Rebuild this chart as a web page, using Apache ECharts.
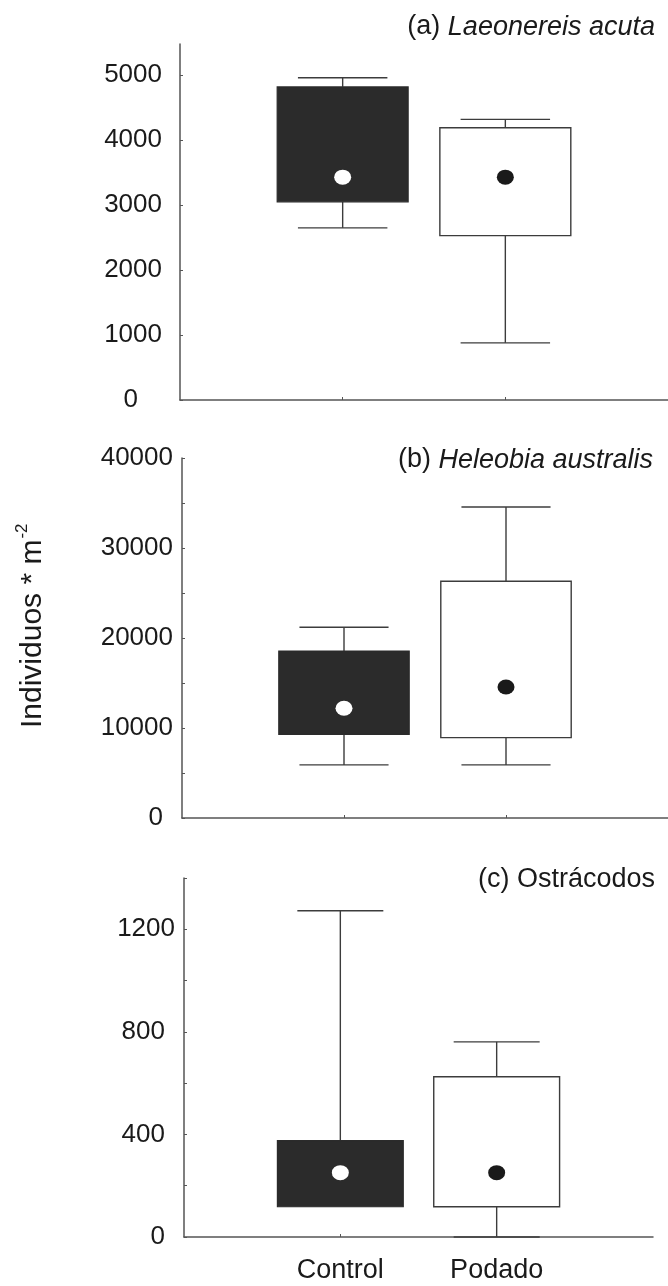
<!DOCTYPE html>
<html>
<head>
<meta charset="utf-8">
<script src="https://cdn.jsdelivr.net/npm/echarts@6/dist/echarts.min.js"></script>
<style>
  html, body { margin: 0; padding: 0; background: #ffffff; }
  #chart { width: 668px; height: 1286px; }
</style>
</head>
<body>
<div id="chart"></div>
<script>
// Treatment groups and their position on the x axis
const groups = ['Control', 'Podado'];
const groupPos = [1, 2];

// (a) Laeonereis acuta: [min, Q1, Q3, max] per group, and central marker
const laeoBox = [[2650, 3050, 4820, 4960], [880, 2530, 4190, 4320]];
const laeoMark = [3430, 3430];
const laeoTicks = [0, 1000, 2000, 3000, 4000, 5000];
const laeoLabels = [0, 1000, 2000, 3000, 4000, 5000];

// (b) Heleobia australis
const heleoBox = [[5900, 9300, 18550, 21200], [5900, 8930, 26300, 34550]];
const heleoMark = [12200, 14550];
const heleoTicks = [0, 5000, 10000, 15000, 20000, 25000, 30000, 35000, 40000];
const heleoLabels = [0, 10000, 20000, 30000, 40000];

// (c) Ostrácodos
const ostraBox = [[118, 118, 376, 1272], [0, 118, 625, 761]];
const ostraMark = [251, 251];
const ostraTicks = [0, 200, 400, 600, 800, 1000, 1200, 1400];
const ostraLabels = [0, 400, 800, 1200];

const FONT = '"Liberation Sans", Arial, sans-serif';
const TXT = '#1a1a1a';
const AXIS = '#555555';

const panels = [
  { grid: { left: 180, top: 44, width: 492, height: 356 }, max: 5480,
    box: laeoBox, mark: laeoMark, ticks: laeoTicks, labels: laeoLabels,
    margin: 18, extraPad: { 0: 24 }, showX: false,
    title: '{n|(a) }{i|Laeonereis acuta}', titleRight: 13, titleMid: 27 },
  { grid: { left: 182, top: 458, width: 487, height: 360 }, max: 40000,
    box: heleoBox, mark: heleoMark, ticks: heleoTicks, labels: heleoLabels,
    margin: 9, extraPad: { 0: 10 }, showX: false,
    title: '{n|(b) }{i|Heleobia australis}', titleRight: 15, titleMid: 460 },
  { grid: { left: 184, top: 878, width: 469, height: 359 }, max: 1400,
    box: ostraBox, mark: ostraMark, ticks: ostraTicks, labels: ostraLabels,
    margin: 9, extraPad: { 0: 10, 400: 10, 800: 10 }, showX: true,
    title: '{n|(c) Ostrácodos}', titleRight: 13, titleMid: 880 }
];

const lineStyle = { stroke: '#3c3c3c', lineWidth: 1.4 };

// Box with whiskers drawn through the axis scales
function renderBox(params, api) {
  const x = api.value(0);
  const lo = api.coord([x, api.value(1)]);
  const q1 = api.coord([x, api.value(2)]);
  const q3 = api.coord([x, api.value(3)]);
  const hi = api.coord([x, api.value(4)]);
  const unit = api.size([1, 0])[0];
  const bw = unit * 0.805;
  const cw = unit * 0.55;
  const filled = api.value(5) === 0;
  const cx = q1[0];
  const children = [];
  if (hi[1] < q3[1]) {
    children.push({ type: 'line', shape: { x1: cx, y1: q3[1], x2: cx, y2: hi[1] }, style: lineStyle });
    children.push({ type: 'line', shape: { x1: cx - cw / 2, y1: hi[1], x2: cx + cw / 2, y2: hi[1] }, style: lineStyle });
  }
  if (lo[1] > q1[1]) {
    children.push({ type: 'line', shape: { x1: cx, y1: q1[1], x2: cx, y2: lo[1] }, style: lineStyle });
    children.push({ type: 'line', shape: { x1: cx - cw / 2, y1: lo[1], x2: cx + cw / 2, y2: lo[1] }, style: lineStyle });
  }
  children.push({
    type: 'rect',
    shape: { x: cx - bw / 2, y: q3[1], width: bw, height: q1[1] - q3[1] },
    style: filled
      ? { fill: '#2b2b2b', stroke: '#2b2b2b', lineWidth: 1.2 }
      : { fill: '#ffffff', stroke: '#3c3c3c', lineWidth: 1.4 }
  });
  return { type: 'group', children };
}

const grid = [], xAxis = [], yAxis = [], series = [], title = [];

panels.forEach((p, i) => {
  grid.push(Object.assign({ containLabel: false }, p.grid));
  xAxis.push({
    type: 'value', gridIndex: i, min: 0, max: 3,
    axisLine: { show: true, lineStyle: { color: AXIS, width: 1.5 } },
    axisTick: { show: true, inside: true, length: 3, customValues: groupPos, lineStyle: { color: AXIS } },
    axisLabel: {
      show: p.showX, customValues: groupPos, margin: 20,
      formatter: v => groups[groupPos.indexOf(v)] || '',
      color: TXT, fontSize: 27, fontFamily: FONT
    },
    splitLine: { show: false }
  });
  const padRich = {};
  Object.keys(p.extraPad).forEach(k => {
    padRich['p' + k] = { padding: [0, p.extraPad[k], 0, 0], fontSize: 26, fontFamily: FONT, color: TXT };
  });
  yAxis.push({
    type: 'value', gridIndex: i, min: 0, max: p.max,
    axisLine: { show: true, lineStyle: { color: AXIS, width: 1.5 } },
    axisTick: { show: true, inside: true, length: 3, customValues: p.ticks, lineStyle: { color: AXIS } },
    axisLabel: {
      customValues: p.labels, margin: p.margin,
      color: TXT, fontSize: 26, fontFamily: FONT,
      formatter: v => (p.extraPad[v] !== undefined ? '{p' + v + '|' + v + '}' : String(v)),
      rich: padRich
    },
    splitLine: { show: false }
  });
  series.push({
    type: 'custom', xAxisIndex: i, yAxisIndex: i, z: 2,
    renderItem: renderBox,
    encode: { x: 0, y: [1, 2, 3, 4] },
    data: p.box.map((b, g) => [groupPos[g], b[0], b[1], b[2], b[3], g])
  });
  series.push({
    type: 'scatter', xAxisIndex: i, yAxisIndex: i, z: 5,
    symbol: 'circle', symbolSize: [17, 15], silent: true,
    data: p.mark.map((m, g) => ({
      value: [groupPos[g], m],
      itemStyle: { color: g === 0 ? '#ffffff' : '#1a1a1a', opacity: 1 }
    }))
  });
  const base = { fontSize: 27, fontFamily: FONT, color: TXT, lineHeight: 32, fontWeight: 'normal' };
  title.push({
    text: p.title, right: p.titleRight, top: p.titleMid - 16, padding: 0,
    textStyle: { fontWeight: 'normal', rich: { n: Object.assign({}, base), i: Object.assign({ fontStyle: 'italic' }, base) } }
  });
});

// Shared y-axis name with superscript unit exponent
const yName = 'Individuos * m';
const yNameSup = '-2';
const measure = document.createElement('canvas').getContext('2d');
measure.font = '30px "Liberation Sans"';
const yNameWidth = measure.measureText(yName).width;

const chart = echarts.init(document.getElementById('chart'), null, { renderer: 'canvas' });
chart.setOption({
  backgroundColor: '#ffffff',
  animation: false,
  title,
  grid, xAxis, yAxis, series,
  graphic: [{
    type: 'group', x: 33, y: 728, rotation: Math.PI / 2,
    children: [
      { type: 'text', style: { text: yName, x: 0, y: 0, fontSize: 30, fontFamily: FONT, fill: TXT, align: 'left', verticalAlign: 'middle' } },
      { type: 'text', style: { text: yNameSup, x: yNameWidth + 1, y: -11, fontSize: 17, fontFamily: FONT, fill: TXT, align: 'left', verticalAlign: 'middle' } }
    ]
  }]
});
</script>
</body>
</html>
